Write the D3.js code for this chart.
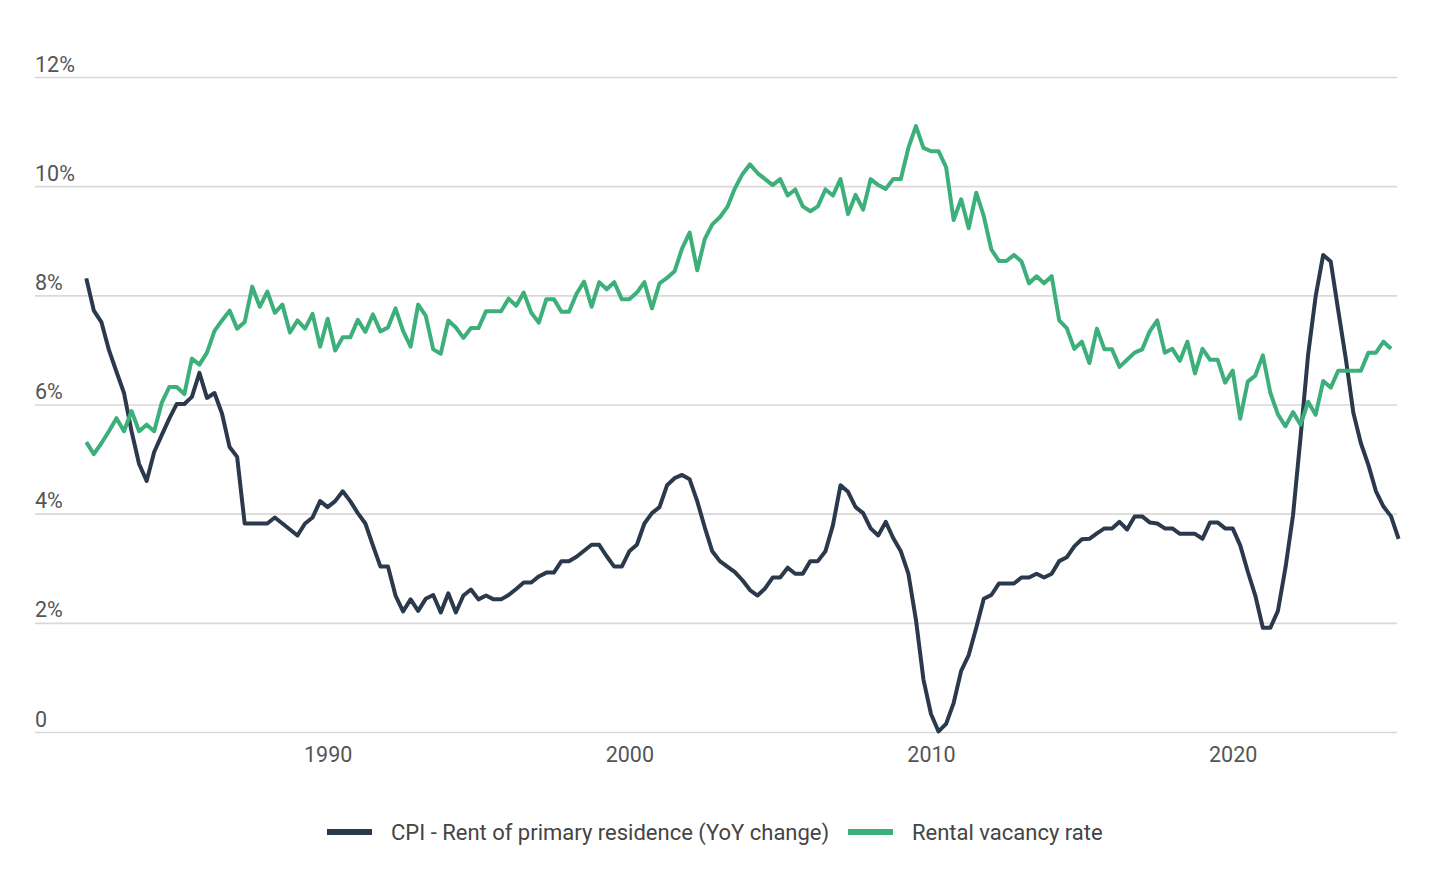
<!DOCTYPE html>
<html>
<head>
<meta charset="utf-8">
<script src="https://cdn.jsdelivr.net/npm/d3@7"></script>
<style>
  html, body { margin: 0; padding: 0; background: #fff; }
  svg { display: block; font-family: Roboto, "Noto Sans", sans-serif; }
</style>
</head>
<body>
<svg id="chart" width="1450" height="875"></svg>
<script>
// ---- Data (quarterly, starting 1982 Q1) ----
const startYear = 1982;
const cpiRent = [
  8.31, 7.72, 7.51, 7.00, 6.60, 6.21, 5.51, 4.91, 4.60, 5.13,
  5.44, 5.74, 6.01, 6.01, 6.14, 6.58, 6.12, 6.21, 5.83, 5.22,
  5.04, 3.82, 3.82, 3.82, 3.82, 3.93, 3.82, 3.71, 3.60, 3.82,
  3.93, 4.23, 4.12, 4.23, 4.41, 4.23, 4.01, 3.82, 3.42, 3.03,
  3.03, 2.50, 2.21, 2.43, 2.22, 2.44, 2.51, 2.19, 2.54, 2.19,
  2.50, 2.61, 2.43, 2.50, 2.43, 2.43, 2.51, 2.62, 2.74, 2.74,
  2.85, 2.92, 2.92, 3.13, 3.13, 3.21, 3.32, 3.43, 3.43, 3.22,
  3.03, 3.03, 3.31, 3.43, 3.82, 4.01, 4.12, 4.52, 4.65, 4.71,
  4.63, 4.23, 3.75, 3.31, 3.13, 3.03, 2.93, 2.78, 2.60, 2.50,
  2.63, 2.83, 2.83, 3.01, 2.90, 2.90, 3.13, 3.13, 3.31, 3.79,
  4.52, 4.40, 4.12, 4.01, 3.73, 3.60, 3.85, 3.55, 3.31, 2.90,
  2.06, 0.96, 0.33, 0.01, 0.15, 0.53, 1.12, 1.41, 1.91, 2.44,
  2.51, 2.72, 2.72, 2.72, 2.83, 2.83, 2.90, 2.83, 2.90, 3.13,
  3.20, 3.40, 3.53, 3.54, 3.64, 3.73, 3.73, 3.85, 3.71, 3.95,
  3.95, 3.84, 3.82, 3.73, 3.73, 3.63, 3.63, 3.63, 3.54, 3.84,
  3.84, 3.73, 3.73, 3.42, 2.94, 2.50, 1.91, 1.91, 2.22, 3.01,
  3.97, 5.40, 6.91, 7.98, 8.74, 8.62, 7.72, 6.84, 5.85, 5.29,
  4.89, 4.41, 4.13, 3.95, 3.54
];
const vacancyRate = [
  5.31, 5.09, 5.29, 5.51, 5.75, 5.51, 5.88, 5.51, 5.63, 5.51,
  6.03, 6.32, 6.32, 6.19, 6.84, 6.73, 6.95, 7.35, 7.54, 7.72,
  7.39, 7.51, 8.16, 7.79, 8.07, 7.68, 7.83, 7.32, 7.54, 7.39,
  7.66, 7.06, 7.57, 6.99, 7.23, 7.23, 7.55, 7.33, 7.65, 7.34,
  7.41, 7.76, 7.35, 7.06, 7.83, 7.63, 7.01, 6.93, 7.54, 7.41,
  7.22, 7.40, 7.40, 7.71, 7.71, 7.71, 7.94, 7.81, 8.05, 7.68,
  7.50, 7.93, 7.93, 7.70, 7.70, 8.03, 8.25, 7.79, 8.24, 8.11,
  8.24, 7.93, 7.93, 8.05, 8.24, 7.76, 8.22, 8.32, 8.44, 8.86,
  9.15, 8.46, 9.03, 9.30, 9.43, 9.62, 9.96, 10.22, 10.40, 10.24,
  10.13, 10.02, 10.13, 9.83, 9.94, 9.63, 9.54, 9.63, 9.94, 9.83,
  10.13, 9.49, 9.84, 9.57, 10.13, 10.02, 9.95, 10.13, 10.13, 10.70,
  11.10, 10.70, 10.64, 10.64, 10.35, 9.38, 9.76, 9.23, 9.88, 9.45,
  8.84, 8.63, 8.63, 8.74, 8.62, 8.22, 8.35, 8.22, 8.35, 7.54,
  7.40, 7.02, 7.15, 6.76, 7.39, 7.01, 7.01, 6.69, 6.82, 6.95,
  7.01, 7.34, 7.54, 6.95, 7.02, 6.80, 7.15, 6.57, 7.02, 6.82,
  6.82, 6.40, 6.62, 5.74, 6.42, 6.53, 6.90, 6.21, 5.82, 5.60,
  5.86, 5.63, 6.05, 5.81, 6.43, 6.31, 6.62, 6.62, 6.62, 6.62,
  6.95, 6.95, 7.15, 7.02
];
const xTickYears = [1990, 2000, 2010, 2020];
const yTickValues = [0, 2, 4, 6, 8, 10, 12];
const seriesNames = ["CPI - Rent of primary residence (YoY change)", "Rental vacancy rate"];
const seriesColors = ["#2b394d", "#3daf7b"];

// ---- Layout ----
const svg = d3.select("#chart");
const plotLeft = 35, plotRight = 1397;
const x = d3.scaleLinear().domain([1982, 2025.5]).range([86.3, 1398.6]);
const y = d3.scaleLinear().domain([0, 12]).range([732, 77]);

// y axis with gridlines
const yAxis = d3.axisRight(y)
  .tickValues(yTickValues)
  .tickSize(plotRight - plotLeft)
  .tickFormat(d => d === 0 ? "0" : d + "%");
const gy = svg.append("g")
  .attr("transform", `translate(${plotLeft},0)`)
  .call(yAxis);
gy.select(".domain").remove();
gy.selectAll(".tick line").attr("stroke", "#d9d9d9").attr("stroke-width", 1.6);
gy.selectAll(".tick text")
  .attr("x", 0).attr("dy", -6)
  .attr("text-anchor", "start")
  .attr("fill", "#555")
  .style("font-size", "21.5px")
  .style("font-family", "Roboto, sans-serif");

// x axis labels
const xAxis = d3.axisBottom(x).tickValues(xTickYears).tickSize(0).tickFormat(d3.format("d"));
const gx = svg.append("g").attr("transform", "translate(0,732)").call(xAxis);
gx.select(".domain").remove();
gx.selectAll(".tick text")
  .attr("y", 15)
  .attr("fill", "#555")
  .style("font-size", "21.5px")
  .style("font-family", "Roboto, sans-serif");

// lines
const line = d3.line()
  .x((d, i) => x(startYear + i / 4))
  .y(d => y(d))
  .curve(d3.curveLinear);

[cpiRent, vacancyRate].forEach((s, k) => {
  svg.append("path")
    .datum(s)
    .attr("fill", "none")
    .attr("stroke", seriesColors[k])
    .attr("stroke-width", 4)
    .attr("stroke-linejoin", "round")
    .attr("stroke-linecap", "butt")
    .attr("d", line);
});

// legend
const legend = svg.append("g").attr("transform", "translate(0,832)");
const legendX = [327, 848];
seriesNames.forEach((name, k) => {
  legend.append("rect")
    .attr("x", legendX[k]).attr("y", -3)
    .attr("width", 45).attr("height", 6)
    .attr("fill", seriesColors[k]);
  legend.append("text")
    .attr("x", legendX[k] + 64).attr("y", 0)
    .attr("dy", "0.35em")
    .attr("fill", "#444")
    .style("font-size", "22px")
    .style("font-family", "Roboto, sans-serif")
    .text(name);
});
</script>
</body>
</html>
